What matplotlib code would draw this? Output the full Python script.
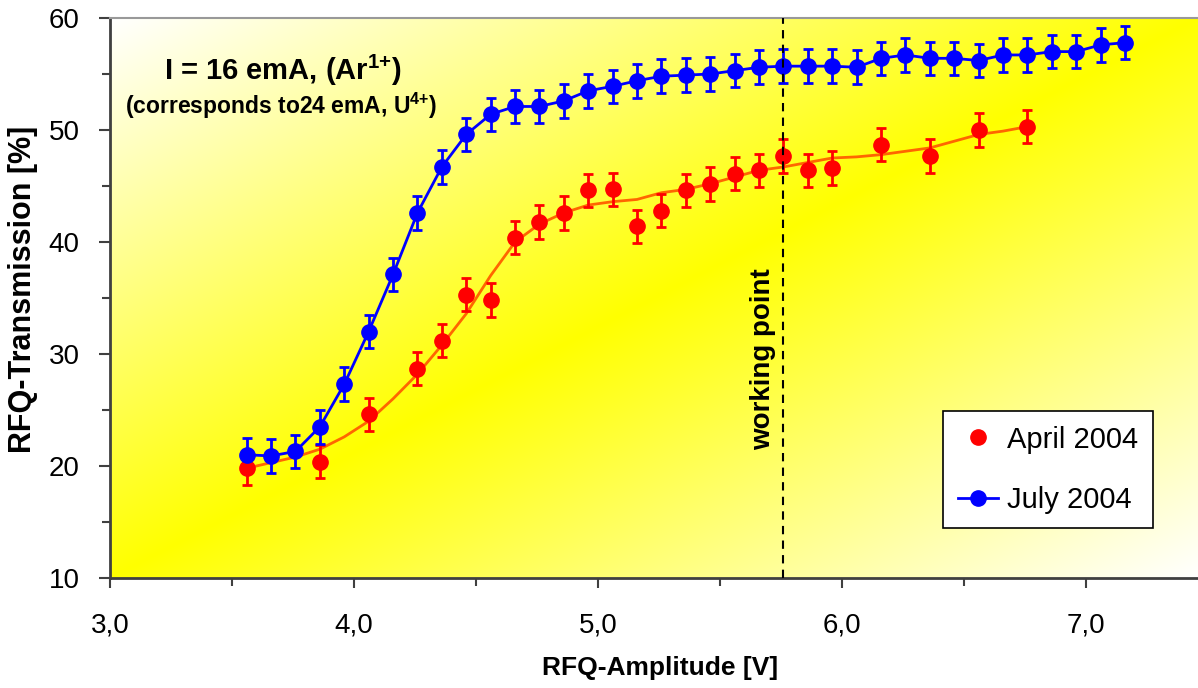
import numpy as np
import matplotlib
matplotlib.use('Agg')
import matplotlib.pyplot as plt
from matplotlib.ticker import MultipleLocator, FuncFormatter

plt.rcParams['font.family'] = ['Liberation Sans', 'DejaVu Sans']
plt.rcParams['mathtext.fontset'] = 'custom'
plt.rcParams['mathtext.rm'] = 'Liberation Sans'
plt.rcParams['mathtext.bf'] = 'Liberation Sans:bold'

# July 2004 (blue, measured every 0.1 V)
july_x = [3.56, 3.66, 3.76, 3.86, 3.96, 4.06, 4.16, 4.26, 4.36, 4.46, 4.56, 4.66, 4.76,
          4.86, 4.96, 5.06, 5.16, 5.26, 5.36, 5.46, 5.56, 5.66, 5.76, 5.86, 5.96, 6.06,
          6.16, 6.26, 6.36, 6.46, 6.56, 6.66, 6.76, 6.86, 6.96, 7.06, 7.16]
july_y = [21.0, 20.9, 21.3, 23.5, 27.3, 32.0, 37.1, 42.6, 46.7, 49.6, 51.4, 52.1, 52.1,
          52.6, 53.5, 53.9, 54.4, 54.8, 54.9, 55.0, 55.3, 55.6, 55.7, 55.7, 55.7, 55.6,
          56.4, 56.7, 56.4, 56.4, 56.2, 56.7, 56.7, 57.0, 57.0, 57.6, 57.8]

# April 2004 (red points)
april_x = [3.56, 3.86, 4.06, 4.26, 4.36, 4.46, 4.56, 4.66, 4.76, 4.86, 4.96, 5.06, 5.16,
           5.26, 5.36, 5.46, 5.56, 5.66, 5.76, 5.86, 5.96, 6.16, 6.36, 6.56, 6.76]
april_y = [19.8, 20.4, 24.6, 28.7, 31.2, 35.3, 34.8, 40.4, 41.8, 42.6, 44.6, 44.7, 41.4,
           42.8, 44.6, 45.2, 46.1, 46.4, 47.7, 46.4, 46.6, 48.7, 47.7, 50.0, 50.3]

# April 2004 smoothed curve (orange)
fit_x = [3.56, 3.66, 3.76, 3.86, 3.96, 4.06, 4.16, 4.26, 4.36, 4.46, 4.56, 4.66, 4.76,
         4.86, 4.96, 5.06, 5.16, 5.26, 5.36, 5.46, 5.56, 5.66, 5.76, 5.86, 5.96, 6.06,
         6.16, 6.26, 6.36, 6.46, 6.56, 6.66, 6.76]
fit_y = [19.8, 20.3, 20.8, 21.5, 22.6, 24.0, 26.0, 28.2, 30.8, 33.6, 37.0, 40.0, 41.6,
         42.6, 43.3, 43.6, 43.8, 44.4, 44.7, 45.2, 45.8, 46.4, 46.7, 47.1, 47.5, 47.6,
         47.8, 48.1, 48.4, 49.0, 49.6, 49.9, 50.3]

err = 1.5
working_point = 5.76

fig = plt.figure(figsize=(11.98, 6.88), dpi=100)
ax = fig.add_axes([110 / 1198, 110 / 688, 1088 / 1198, 560 / 688])

# diagonal yellow gradient background
n = 400
u, v = np.meshgrid(np.linspace(0, 1, n), np.linspace(0, 1, n))
t = np.clip(np.abs(u - v), 0, 1)
img = np.dstack([np.ones_like(t), np.ones_like(t), t])
ax.imshow(img, extent=[0, 1, 0, 1], origin='lower', transform=ax.transAxes,
          aspect='auto', zorder=0, interpolation='bilinear')

ax.plot(fit_x, fit_y, color='#FF6600', lw=2, zorder=2)
ax.errorbar(april_x, april_y, yerr=err, fmt='none', ecolor='#FF0000', elinewidth=2,
            capsize=3.5, capthick=2, zorder=3)
ax.plot(april_x, april_y, 'o', color='#FF0000', ms=11, zorder=4, label='April 2004')

ax.errorbar(july_x, july_y, yerr=err, fmt='none', ecolor='#0000FF', elinewidth=2,
            capsize=3.5, capthick=2, zorder=3)
ax.plot(july_x, july_y, '-o', color='#0000FF', lw=2, ms=11, zorder=4, label='July 2004')

ax.axvline(working_point, color='black', ls=(0, (4, 3)), lw=1.5, zorder=6)
ax.text(working_point - 0.085, 29.5, 'working point', rotation=90, ha='center', va='center',
        fontsize=20, fontweight='bold', zorder=7)

ax.text(0.159, 0.907, r'I = 16 emA, (Ar$^{\mathbf{1{+}}}$)', transform=ax.transAxes,
        ha='center', va='center', fontsize=21, fontweight='bold')
ax.text(0.157, 0.843, r'(corresponds to24 emA, U$^{\mathbf{4{+}}}$)', transform=ax.transAxes,
        ha='center', va='center', fontsize=16.5, fontweight='bold')

ax.set_xlim(3.0, 3.0 + 1088 / 244.0)
ax.set_ylim(10, 60)
ax.xaxis.set_major_locator(MultipleLocator(1.0))
ax.xaxis.set_minor_locator(MultipleLocator(0.5))
ax.yaxis.set_major_locator(MultipleLocator(10))
ax.yaxis.set_minor_locator(MultipleLocator(5))
ax.xaxis.set_major_formatter(FuncFormatter(lambda val, pos: ('%.1f' % val).replace('.', ',')))

ax.tick_params(which='both', direction='out', color='#404040', width=1.5, labelsize=20)
ax.tick_params(axis='x', which='major', length=7, pad=18)
ax.tick_params(axis='x', which='minor', length=6)
ax.tick_params(axis='y', which='major', length=8, pad=14)
ax.tick_params(axis='y', which='minor', length=6)

for side in ['left', 'bottom']:
    ax.spines[side].set_color('#404040')
    ax.spines[side].set_linewidth(2)
ax.spines['top'].set_color('#999999')
ax.spines['top'].set_linewidth(1.5)
ax.spines['right'].set_visible(False)

ax.set_xlabel('RFQ-Amplitude [V]', fontsize=19, fontweight='bold')
ax.set_ylabel('RFQ-Transmission [%]', fontsize=22, fontweight='bold')
ax.xaxis.set_label_coords(0.506, -0.14)
ax.yaxis.set_label_coords(-0.066, 0.515)

leg = ax.legend(loc='upper right', bbox_to_anchor=(0.9586, 0.298), borderaxespad=0,
                fontsize=21, frameon=True, fancybox=False, edgecolor='black',
                handlelength=1.4, handletextpad=0.3, labelspacing=1.1, borderpad=0.5)
leg.get_frame().set_linewidth(1.2)
leg.get_frame().set_facecolor('white')
leg.get_frame().set_alpha(1)

fig.savefig('out.png', dpi=100)
